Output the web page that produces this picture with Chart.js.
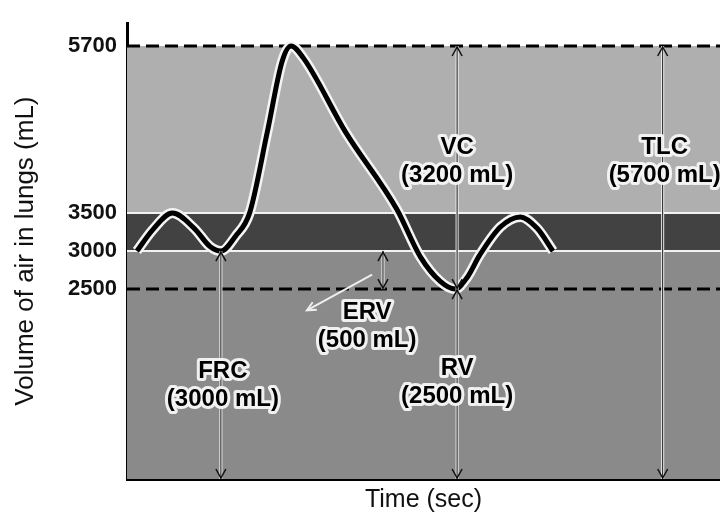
<!DOCTYPE html>
<html>
<head>
<meta charset="utf-8">
<title>Lung volumes</title>
<script src="https://cdn.jsdelivr.net/npm/chart.js@4.4.1/dist/chart.umd.min.js"></script>
<style>
  html, body { margin: 0; padding: 0; background: #fff; }
  #wrap { width: 720px; height: 517px; position: relative; }
</style>
</head>
<body>
<div id="wrap"><canvas id="lungChart"></canvas></div>
<script>
/* Spirogram: lung volumes and capacities */

// time (sec) and volume (mL) of the breathing trace
const timeSec = [1.0, 2.6, 4.6, 6.8, 8.4, 9.5, 11.0, 12.4, 14.2, 15.7, 16.6, 17.8, 22.1, 27.3, 29.7, 31.7, 33.2, 34.4, 35.7, 37.8, 39.8, 41.5, 43.1];
const volumeMl = [3000, 3280, 3500, 3300, 3060, 3000, 3200, 3500, 4570, 5500, 5700, 5550, 4570, 3550, 2920, 2600, 2500, 2650, 2950, 3320, 3450, 3300, 3000];

// y axis tick labels (mL)
const yTicks = [2500, 3000, 3500, 5700];

// volume band edges (mL): residual, expiratory reserve, tidal, inspiratory reserve
const bandEdges = [0, 3000, 3500, 5700];
const bandColors = ['#8a8a8a', '#424242', '#afafaf'];
const dashedLevels = [5700, 2500];

// measurement arrows (time, from mL, to mL)
const arrowX = [9.5, 33.4, 33.4, 54.2, 25.9];
const arrowFrom = [3000, 5700, 2500, 5700, 3000];
const arrowTo = [0, 2500, 0, 0, 2500];

// labels: name, amount, where they sit (time, mL)
const labelNames = ['VC', 'TLC', 'ERV', 'FRC', 'RV'];
const labelAmounts = ['(3200 mL)', '(5700 mL)', '(500 mL)', '(3000 mL)', '(2500 mL)'];
const labelX = [33.4, 54.4, 24.3, 9.7, 33.4];
const labelY = [4360, 4360, 2190, 1420, 1450];

const FONT = '"Liberation Sans", Arial, sans-serif';

const points = timeSec.map((t, i) => ({ x: t, y: volumeMl[i] }));

const bandsPlugin = {
  id: 'bands',
  beforeDatasetsDraw(chart) {
    const { ctx, chartArea: a, scales: { y } } = chart;
    ctx.save();
    for (let i = 0; i < bandColors.length; i++) {
      const top = y.getPixelForValue(bandEdges[i + 1]);
      const bot = y.getPixelForValue(bandEdges[i]);
      ctx.fillStyle = bandColors[i];
      ctx.fillRect(a.left, top, a.right - a.left, bot - top);
    }
    // thin light seams between bands
    ctx.strokeStyle = '#f2f2f2';
    ctx.lineWidth = 2;
    [bandEdges[1], bandEdges[2]].forEach(v => {
      const py = y.getPixelForValue(v);
      ctx.beginPath();
      ctx.moveTo(a.left, py);
      ctx.lineTo(a.right, py);
      ctx.stroke();
    });
    ctx.strokeStyle = '#000';
    ctx.lineWidth = 3;
    ctx.setLineDash([13, 6]);
    dashedLevels.forEach(v => {
      const py = y.getPixelForValue(v);
      ctx.beginPath();
      ctx.moveTo(a.left, py);
      ctx.lineTo(a.right, py);
      ctx.stroke();
    });
    ctx.restore();
  }
};

function arrowHead(ctx, x, y, dir) {
  // open V head, dir = -1 points up, 1 points down
  ctx.beginPath();
  ctx.moveTo(x - 5, y - dir * 9);
  ctx.lineTo(x, y);
  ctx.lineTo(x + 5, y - dir * 9);
  ctx.stroke();
}

const notesPlugin = {
  id: 'notes',
  afterDatasetsDraw(chart) {
    const { ctx, scales: { x, y } } = chart;
    ctx.save();
    // vertical double arrows
    arrowX.forEach((t, i) => {
      const px = x.getPixelForValue(t);
      const y1 = y.getPixelForValue(arrowFrom[i]);
      const y2 = y.getPixelForValue(arrowTo[i]);
      ctx.strokeStyle = '#f4f4f4';
      ctx.lineWidth = 3;
      ctx.beginPath();
      ctx.moveTo(px, y1);
      ctx.lineTo(px, y2);
      ctx.stroke();
      ctx.strokeStyle = '#111';
      ctx.lineWidth = 1;
      ctx.beginPath();
      ctx.moveTo(px, y1);
      ctx.lineTo(px, y2);
      ctx.stroke();
      ctx.lineWidth = 1.5;
      const d = y2 > y1 ? 1 : -1;
      arrowHead(ctx, px, y1 + d * 1, -d);
      arrowHead(ctx, px, y2 - d * 1, d);
    });

    // ERV leader line
    const lx1 = x.getPixelForValue(18.2), ly1 = y.getPixelForValue(2220);
    const lx2 = x.getPixelForValue(24.8), ly2 = y.getPixelForValue(2690);
    ctx.strokeStyle = '#eee';
    ctx.lineWidth = 2;
    ctx.beginPath();
    ctx.moveTo(lx1, ly1);
    ctx.lineTo(lx2, ly2);
    ctx.stroke();
    const ang = Math.atan2(ly2 - ly1, lx2 - lx1);
    ctx.beginPath();
    ctx.moveTo(lx1 + 10 * Math.cos(ang - 0.45), ly1 + 10 * Math.sin(ang - 0.45));
    ctx.lineTo(lx1, ly1);
    ctx.lineTo(lx1 + 10 * Math.cos(ang + 0.45), ly1 + 10 * Math.sin(ang + 0.45));
    ctx.stroke();

    // labels with light halo
    ctx.font = 'bold 24px ' + FONT;
    ctx.textAlign = 'center';
    ctx.textBaseline = 'middle';
    ctx.lineJoin = 'round';
    labelNames.forEach((name, i) => {
      const px = x.getPixelForValue(labelX[i]);
      const py = y.getPixelForValue(labelY[i]);
      [[name, py], [labelAmounts[i], py + 28]].forEach(([txt, ty]) => {
        ctx.strokeStyle = 'rgba(245,245,245,0.95)';
        ctx.lineWidth = 6;
        ctx.strokeText(txt, px, ty);
        ctx.fillStyle = '#000';
        ctx.fillText(txt, px, ty);
      });
    });
    ctx.restore();
  }
};

new Chart(document.getElementById('lungChart'), {
  type: 'line',
  data: {
    datasets: [
      {
        data: points,
        borderColor: '#000',
        borderWidth: 5,
        pointRadius: 0,
        cubicInterpolationMode: 'monotone',
        order: 0
      },
      {
        // halo under the trace
        data: points,
        borderColor: '#f4f4f4',
        borderWidth: 10,
        pointRadius: 0,
        cubicInterpolationMode: 'monotone',
        order: 1
      }
    ]
  },
  options: {
    responsive: true,
    maintainAspectRatio: false,
    animation: false,
    layout: { padding: { top: 8, right: 0, left: 0, bottom: 0 } },
    plugins: {
      legend: { display: false },
      tooltip: { enabled: false }
    },
    scales: {
      x: {
        type: 'linear',
        min: 0,
        max: 60,
        grid: { display: false, drawTicks: false },
        border: { display: true, color: '#000', width: 3 },
        ticks: { display: false },
        title: {
          display: true,
          text: 'Time (sec)',
          color: '#111',
          font: { family: FONT, size: 25 },
          padding: { top: 0, bottom: 2 }
        },
        afterFit(scale) { scale.height = 38; }
      },
      y: {
        min: 0,
        max: 6000,
        grid: { display: false, drawTicks: false },
        border: { display: true, color: '#000', width: 3 },
        afterBuildTicks(scale) {
          scale.ticks = yTicks.map(v => ({ value: v }));
        },
        ticks: {
          color: '#111',
          padding: 10,
          font: { family: FONT, size: 22, weight: 'bold' },
          callback: v => String(v)
        },
        title: {
          display: true,
          text: 'Volume of air in lungs (mL)',
          color: '#111',
          font: { family: FONT, size: 26 },
          padding: { top: 10, bottom: 0 }
        },
        afterFit(scale) { scale.width = 127; }
      }
    }
  },
  plugins: [bandsPlugin, notesPlugin]
});
</script>
</body>
</html>
